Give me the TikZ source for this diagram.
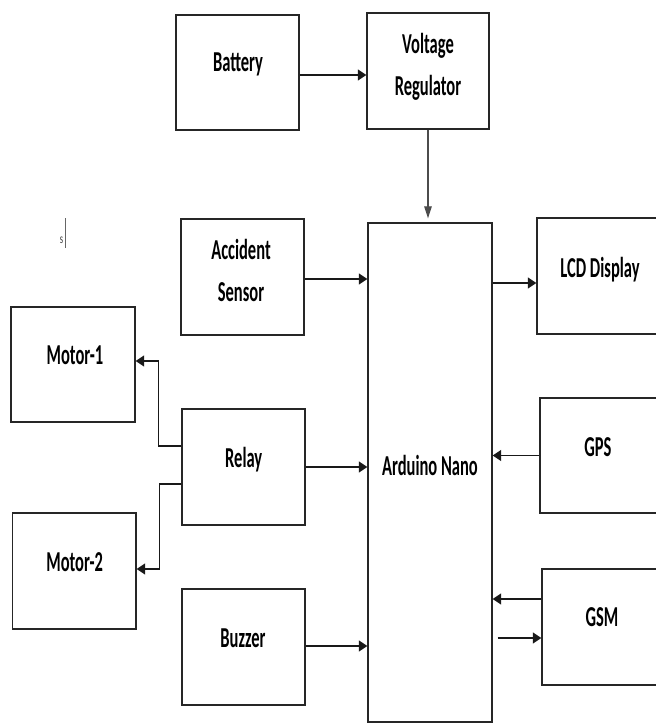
\documentclass[tikz,border=0pt]{standalone}
\usepackage{fontspec}
\usepackage{graphicx}
\setmainfont{Carlito}
\usetikzlibrary{arrows.meta,calc}
\newcommand\stretchtxt[1]{\scalebox{1}[1.75]{\begin{tabular}{@{}c@{}}#1\end{tabular}}}
\begin{document}
\begin{tikzpicture}[x=1pt,y=-1pt,
  blk/.style={draw=black!85,line width=1.3pt,inner sep=0pt,rectangle},
  txt/.style={inner sep=0pt,font=\fontsize{16.5}{24}\selectfont\bfseries},
  harr/.style={draw=black!90,line width=1.3pt,-{Triangle[length=8.5pt,width=11pt]}},
  varr/.style={draw=black!70,line width=1.1pt,-{Triangle[length=12pt,width=7.5pt]}}]
\useasboundingbox (0,0) rectangle (656,724);
\clip (0,0) rectangle (656,724);
\fill[white] (0,0) rectangle (656,724);
% boxes
\node[blk,minimum width=123pt,minimum height=115pt] (battery) at (237.5,72.5) {};
\node[blk,minimum width=122pt,minimum height=116pt] (vreg) at (428,71) {};
\node[blk,minimum width=123pt,minimum height=116pt] (accident) at (242.5,277) {};
\node[blk,minimum width=124pt,minimum height=499pt] (arduino) at (430,472.5) {};
\node[blk,minimum width=124pt,minimum height=116pt] (lcd) at (599,276) {};
\node[blk,minimum width=120pt,minimum height=115pt] (gps) at (600,455.5) {};
\node[blk,minimum width=120pt,minimum height=116pt] (gsm) at (602,627) {};
\node[blk,minimum width=124pt,minimum height=115pt] (motor1) at (73,364.5) {};
\node[blk,minimum width=123.5pt,minimum height=116pt] (motor2) at (74.25,571) {};
\node[blk,minimum width=123pt,minimum height=116pt] (relay) at (243.5,467) {};
\node[blk,minimum width=123pt,minimum height=116pt] (buzzer) at (243.5,647) {};
% labels
\node[txt] (battery-t) at (238,63.5) {\stretchtxt{Battery}};
\node[txt] (vreg-t) at (428,66) {\stretchtxt{Voltage\\Regulator}};
\node[txt] (accident-t) at (241,272) {\stretchtxt{Accident\\Sensor}};
\node[txt] (lcd-t) at (600,269.5) {\stretchtxt{LCD Display}};
\node[txt] (motor1-t) at (75,356.5) {\stretchtxt{Motor-1}};
\node[txt] (relay-t) at (243.7,459) {\stretchtxt{Relay}};
\node[txt] (arduino-t) at (430,467) {\stretchtxt{Arduino Nano}};
\node[txt] (gps-t) at (598,448) {\stretchtxt{GPS}};
\node[txt] (motor2-t) at (74.7,563) {\stretchtxt{Motor-2}};
\node[txt] (buzzer-t) at (243,639) {\stretchtxt{Buzzer}};
\node[txt] (gsm-t) at (602,618.5) {\stretchtxt{GSM}};
% stray cursor mark
\node[inner sep=0pt,font=\fontsize{8.5}{10}\selectfont,text=black!75] (stray) at (61.5,240) {\scalebox{1}[1.6]{s}};
\coordinate (cur1) at (65.5,218);
\coordinate (cur2) at (65.5,248);
\draw[black!60,line width=0.8pt] (cur1) -- (cur2);
% connectors
\draw[harr] ($(battery.east)+(0,2.5)$) -- ($(battery.east -| vreg.west)+(0,2.5)$);
\draw[varr] (vreg.south) -- ($(vreg.south |- arduino.north)+(0,-4)$);
\draw[harr] ($(accident.east)+(0,2)$) -- ($(accident.east -| arduino.west)+(0,2)$);
\draw[harr] ($(lcd.west -| arduino.east)+(0,7)$) -- ($(lcd.west)+(0,7)$);
\draw[harr] (gps.west) -- (gps.west -| arduino.east);
\draw[harr] (relay.east) -- (relay.east -| arduino.west);
\draw[harr] ($(gsm.west)+(0,-28)$) -- ($(gsm.west -| arduino.east)+(0,-28)$);
\draw[harr] ($(gsm.west -| arduino.east)+(5,11)$) -- ($(gsm.west)+(0,11)$);
\draw[harr] ($(buzzer.east)+(0,-1)$) -- ($(buzzer.east -| arduino.west)+(0,-1)$);
\draw[harr] ($(relay.west)+(0,-21)$) -- ++(-23,0) |- ($(motor1.east)+(0,-3.5)$);
\draw[harr] ($(relay.west)+(0,17)$) -- ++(-22,0) |- ($(motor2.east)+(0,-2)$);
\end{tikzpicture}
\end{document}
